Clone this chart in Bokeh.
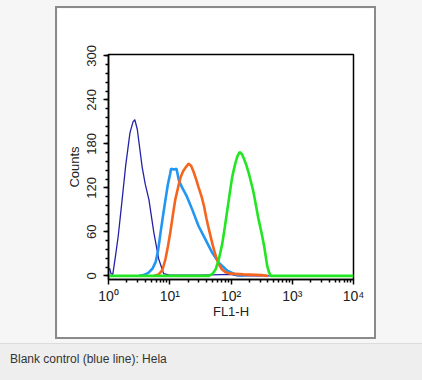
from bokeh.plotting import figure
from bokeh.layouts import column
from bokeh.models import Range1d, SingleIntervalTicker, FixedTicker, Div
from bokeh.embed import file_html
from bokeh.resources import INLINE

# ---- data (FL1-H channel, counts) ----
navy_x = [1.0, 1.047, 1.096, 1.175, 1.30, 1.445, 1.67, 1.905, 2.24, 2.51, 2.69, 2.95, 3.55, 3.98, 4.57, 5.5, 6.6, 7.94, 10.0, 31.6, 100.0, 126.0, 10000.0]
navy_y = [8, 10, 3, 2, 27, 55, 104, 150, 195, 210, 213, 200, 148, 125, 104, 59, 23, 3, 1, 1, 2, 0, 0]

sky_x = [3.16, 3.72, 4.47, 5.25, 5.89, 6.46, 7.08, 7.76, 8.51, 9.33, 10.2, 10.5, 11.7, 12.9, 14.1, 15.8, 19.1, 23.4, 29.5, 38.0, 49.0, 63.1, 87.1, 117.5, 158.5]
sky_y = [0, 1, 4, 10, 19, 35, 59, 82, 104, 125, 140, 146, 145, 146, 130, 121, 108, 90, 68, 50, 32, 18, 7, 2, 0]

orange_x = [5.62, 6.61, 7.59, 8.51, 9.33, 10.2, 11.2, 12.3, 13.8, 15.1, 16.6, 18.2, 20.4, 22.4, 24.5, 26.9, 29.5, 33.1, 36.3, 39.8, 43.7, 47.9, 52.5, 57.5, 63.1, 70.8, 81.3, 100.0, 158.5, 316.0, 398.0]
orange_y = [0, 2, 8, 23, 40, 59, 82, 104, 122, 135, 143, 148, 153, 150, 142, 132, 121, 108, 95, 78, 63, 49, 36, 25, 16, 9, 5, 3, 2, 1, 0]

green_x = [1.0, 43.7, 50.1, 56.2, 63.1, 72.4, 79.4, 87.1, 95.5, 104.7, 114.8, 125.9, 138.0, 151.4, 162.2, 177.8, 195.0, 213.8, 234.4, 257.0, 281.8, 316.2, 346.7, 371.5, 389.0, 416.9, 446.7, 10000.0]
green_y = [0, 0, 3, 9, 22, 45, 67, 90, 113, 135, 150, 162, 169, 166, 160, 151, 140, 127, 113, 95, 77, 58, 41, 25, 14, 5, 0, 0]

x_ticks = [1, 10, 100, 1000, 10000]
x_tick_labels = ["10\u2070", "10\u00b9", "10\u00b2", "10\u00b3", "10\u2074"]
caption = "Blank control (blue line): Hela"

font = "Liberation Sans"

p = figure(width=317, height=329, x_axis_type="log", output_backend="svg", toolbar_location=None,
           x_range=Range1d(1, 10000), y_range=Range1d(-5, 302),
           min_border_left=51, min_border_right=21, min_border_top=46, min_border_bottom=58)
p.border_fill_color = "white"
p.background_fill_color = "white"
p.outline_line_color = "black"
p.outline_line_width = 1.5
p.grid.visible = False
p.margin = (8, 48, 6, 57)
p.styles = {"box-shadow": "0 0 0 2px #8a8a8a"}

p.line(navy_x, navy_y, line_color="#2323a8", line_width=1.3)
p.line(sky_x, sky_y, line_color="#2196f3", line_width=2.6)
p.line(orange_x, orange_y, line_color="#f5651e", line_width=2.6)
p.line(green_x, green_y, line_color="#22e622", line_width=2.6)

xa = p.xaxis[0]
xa.ticker = FixedTicker(ticks=x_ticks, minor_ticks=[m * d for d in [1, 10, 100, 1000] for m in range(2, 10)])
xa.major_label_overrides = {t: l for t, l in zip(x_ticks, x_tick_labels)}
xa.axis_label = "FL1-H"
ya = p.yaxis[0]
ya.ticker = SingleIntervalTicker(interval=60, num_minor_ticks=5)
ya.axis_label = "Counts"
ya.major_label_orientation = "vertical"
for ax in (xa, ya):
    ax.axis_line_width = 1.5
    ax.major_tick_line_width = 1.5
    ax.minor_tick_line_width = 1.5
    ax.major_tick_out = 5
    ax.major_tick_in = 0
    ax.minor_tick_out = 3
    ax.minor_tick_in = 0
    ax.major_label_text_font = font
    ax.major_label_text_font_size = "13px"
    ax.major_label_text_color = "#222222"
    ax.axis_label_text_font = font
    ax.axis_label_text_font_size = "13px"
    ax.axis_label_text_font_style = "normal"
    ax.axis_label_text_color = "#222222"
xa.major_label_text_font_size = "14px"
xa.major_label_standoff = 3
xa.axis_label_standoff = -3
ya.major_label_standoff = 7
ya.axis_label_standoff = 3

cap = Div(text=caption, width=422, height=37, margin=0,
          styles={"background-color": "#eeeeee", "border-top": "1px solid #dcdcdc",
                  "box-sizing": "border-box", "padding-left": "10px",
                  "font-family": font, "font-size": "12px", "color": "#333333",
                  "line-height": "30px"})

root = column(p, cap, width=422, height=380, spacing=0, margin=0,
              styles={"background-color": "#f5f6f5"})

open("out.html", "w").write(file_html(root, INLINE))
